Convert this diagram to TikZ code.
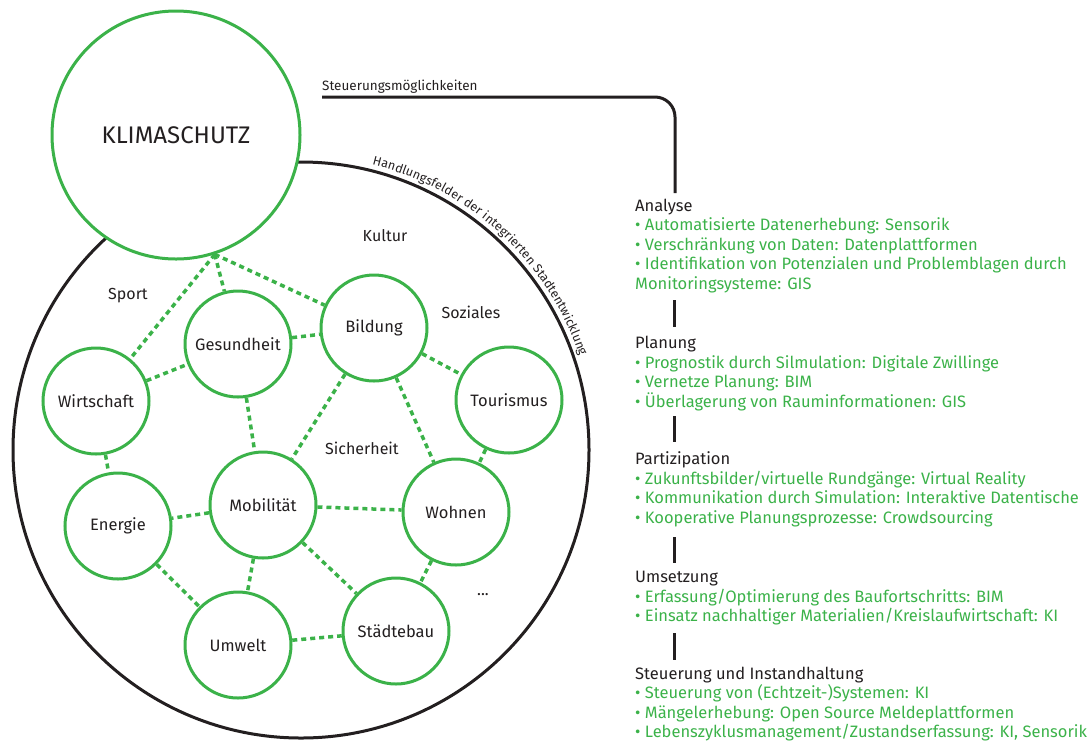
\documentclass[tikz,border=0pt]{standalone}
\usepackage{fontspec}
\setmainfont{Fira Sans}
\usetikzlibrary{decorations.text}
\definecolor{leaf}{RGB}{59,178,73}
\definecolor{ink}{RGB}{35,31,32}

\begin{document}
\begin{tikzpicture}[x=1pt,y=1pt,
  field/.style={circle, draw=leaf, line width=3pt, fill=white, minimum size=106pt,
    inner sep=0pt, text=ink, font=\fontsize{16.5}{18}\selectfont},
  tie/.style={draw=leaf, line width=3.5pt, dash pattern=on 5pt off 4pt},
  loose/.style={text=ink, font=\fontsize{16}{18}\selectfont, inner sep=0pt},
  head/.style={anchor=base west, inner sep=0pt, text=ink, font=\fontsize{16.5}{19}\selectfont},
  item/.style={head, text=leaf},
  rule/.style={draw=ink, line width=3pt}
]
\useasboundingbox (0,0) rectangle (1091,-740);

% ring of the fields of action
\node[circle, draw=ink, line width=3pt, minimum size=576pt, inner sep=0pt] (ring) at (301,-450) {};
\path[decorate, decoration={text along path, raise=5pt,
    text={|\fontsize{12.5}{14}\selectfont\color{ink}|Handlungsfelder der integrierten Stadtentwicklung}}]
  (ring.center) ++(76:289) arc[start angle=76, end angle=5, radius=289];

% climate protection
\node[circle, draw=leaf, line width=3pt, fill=white, minimum size=248pt, inner sep=0pt,
  text=ink, font=\fontsize{24}{26}\selectfont] (klima) at (176,-135) {KLIMASCHUTZ};

% fields
\node[field] (G) at (238,-344) {Gesundheit};
\node[field] (B) at (374,-328) {Bildung};
\node[field] (W) at (96,-401) {Wirtschaft};
\node[field] (T) at (509,-400) {Tourismus};
\node[field] (E) at (118,-526) {Energie};
\node[field] (M) at (263,-505) {Mobilität};
\node[field] (H) at (456,-512) {Wohnen};
\node[field] (U) at (238,-645) {Umwelt};
\node[field] (S) at (396,-631) {Städtebau};

% loose fields
\node[loose] (kultur) at (385,-236) {Kultur};
\node[loose] (sport) at (128,-296) {Sport};
\node[loose] (soziales) at (471,-312) {Soziales};
\node[loose] (sicher) at (362,-448) {Sicherheit};
\node[loose] (more) at (483,-595) {...};

% links
\draw[tie] (klima.-72) -- (W);
\draw[tie] (klima.-72) -- (G);
\draw[tie] (klima.-72) -- (B);
\draw[tie] (W) -- (G);
\draw[tie] (W) -- (E);
\draw[tie] (G) -- (B);
\draw[tie] (G) -- (M);
\draw[tie] (B) -- (T);
\draw[tie] (B) -- (M);
\draw[tie] (B) -- (H);
\draw[tie] (T) -- (H);
\draw[tie] (M) -- (E);
\draw[tie] (M) -- (H);
\draw[tie] (M) -- (U);
\draw[tie] (M) -- (S);
\draw[tie] (E) -- (U);
\draw[tie] (U) -- (S);
\draw[tie] (H) -- (S);

% steering line
\coordinate (s0) at (322,-97);
\coordinate (s1) at (675,-193);
\draw[rule, rounded corners=20pt] (s0) -| (s1);
\node[anchor=base west, inner sep=0pt, text=ink, font=\fontsize{13.5}{15}\selectfont] (steer) at (322,-90) {Steuerungsmöglichkeiten};

% phases
\node[head] (a0) at (635,-211) {Analyse};
\node[item] (a1) at (635,-230) {• Automatisierte Datenerhebung: Sensorik};
\node[item] (a2) at (635,-250) {• Verschränkung von Daten: Datenplattformen};
\node[item] (a3) at (635,-269) {• Identifikation von Potenzialen und Problemblagen durch};
\node[item] (a4) at (635,-289) {Monitoringsysteme: GIS};

\node[head] (p0) at (635,-348) {Planung};
\node[item] (p1) at (635,-368) {• Prognostik durch Silmulation: Digitale Zwillinge};
\node[item] (p2) at (635,-387) {• Vernetze Planung: BIM};
\node[item] (p3) at (635,-407) {• Überlagerung von Rauminformationen: GIS};

\node[head] (z0) at (635,-464) {Partizipation};
\node[item] (z1) at (635,-484) {• Zukunftsbilder/virtuelle Rundgänge: Virtual Reality};
\node[item] (z2) at (635,-503) {• Kommunikation durch Simulation: Interaktive Datentische};
\node[item] (z3) at (635,-523) {• Kooperative Planungsprozesse: Crowdsourcing};

\node[head] (u0) at (635,-582) {Umsetzung};
\node[item] (u1) at (635,-602) {• Erfassung/Optimierung des Baufortschritts: BIM};
\node[item] (u2) at (635,-621) {• Einsatz nachhaltiger Materialien/Kreislaufwirtschaft: KI};

\node[head] (i0) at (635,-679) {Steuerung und Instandhaltung};
\node[item] (i1) at (635,-698) {• Steuerung von (Echtzeit-)Systemen: KI};
\node[item] (i2) at (635,-718) {• Mängelerhebung: Open Source Meldeplattformen};
\node[item] (i3) at (635,-737) {• Lebenszyklusmanagement/Zustandserfassung: KI, Sensorik};

% ticks between phases
\coordinate (t1a) at (674,-300); \coordinate (t1b) at (674,-327);
\coordinate (t2a) at (674,-416); \coordinate (t2b) at (674,-442);
\coordinate (t3a) at (674,-537); \coordinate (t3b) at (674,-563);
\coordinate (t4a) at (674,-633); \coordinate (t4b) at (674,-660);
\draw[rule] (t1a) -- (t1b);
\draw[rule] (t2a) -- (t2b);
\draw[rule] (t3a) -- (t3b);
\draw[rule] (t4a) -- (t4b);
\end{tikzpicture}
\end{document}
